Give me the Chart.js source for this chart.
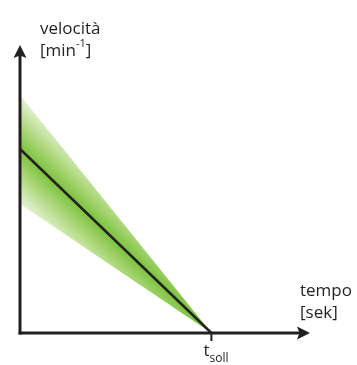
<!DOCTYPE html>
<html>
<head>
<meta charset="utf-8">
<script src="https://cdn.jsdelivr.net/npm/chart.js@4.4.1/dist/chart.umd.min.js"></script>
<style>
    html, body { margin: 0; padding: 0; background: #fff; overflow: hidden; }
    #wrap { position: relative; width: 357px; height: 365px; }
</style>
</head>
<body>
<div id="wrap"><canvas id="speedChart"></canvas></div>
<script>
// time points: start and target time t_soll (axis runs 0..100)
const timePoints = [0, 66];
// speed at those times (axis runs 0..100)
const speedNominal = [63.9, 0];
const speedUpper = [82.6, 0];
const speedLower = [44.8, 0];

const axisColor = '#231f20';
const labelFont = '"Open Sans", "DejaVu Sans", sans-serif';

function toPoints(values) {
    return timePoints.map((t, i) => ({ x: t, y: values[i] }));
}

// green band fading away from the nominal line on both sides
function bandGradient(context) {
    const chart = context.chart;
    const { ctx, chartArea, scales } = chart;
    if (!chartArea) return 'rgba(141, 198, 63, 0.5)';

    const x0 = scales.x.getPixelForValue(timePoints[0]);
    const y0 = scales.y.getPixelForValue(speedNominal[0]);
    const x1 = scales.x.getPixelForValue(timePoints[1]);
    const y1 = scales.y.getPixelForValue(speedNominal[1]);
    const len = Math.hypot(x1 - x0, y1 - y0);
    const nx = -(y1 - y0) / len;
    const ny = (x1 - x0) / len;

    const yu = scales.y.getPixelForValue(speedUpper[0]);
    const half = Math.abs((yu - y0) * ny);

    const g = ctx.createLinearGradient(x0 - nx * half, y0 - ny * half, x0 + nx * half, y0 + ny * half);
    g.addColorStop(0, '#e4f2d5');
    g.addColorStop(0.28, '#acd779');
    g.addColorStop(0.5, '#7cc23f');
    g.addColorStop(0.72, '#acd779');
    g.addColorStop(1, '#e4f2d5');
    return g;
}

function drawText(ctx, parts, x) {
    // parts: [text, size, baseline]
    parts.forEach(([text, size, baseline]) => {
        ctx.font = size + 'px ' + labelFont;
        ctx.fillText(text, x, baseline);
        x += ctx.measureText(text).width;
    });
}

const axesPlugin = {
    id: 'arrowAxes',
    afterDatasetsDraw(chart) {
        const { ctx, chartArea, scales } = chart;
        const left = chartArea.left;
        const bottom = chartArea.bottom;
        const top = chartArea.top;
        const right = chartArea.right;

        ctx.save();
        ctx.strokeStyle = axisColor;
        ctx.fillStyle = axisColor;
        ctx.lineWidth = 3;
        ctx.lineCap = 'butt';

        // y axis
        ctx.beginPath();
        ctx.moveTo(left, bottom + 1.5);
        ctx.lineTo(left, top + 8);
        ctx.stroke();
        // x axis
        ctx.beginPath();
        ctx.moveTo(left - 1.5, bottom);
        ctx.lineTo(right - 8, bottom);
        ctx.stroke();

        // arrow heads
        ctx.beginPath();
        ctx.moveTo(left, top);
        ctx.lineTo(left - 6.5, top + 13);
        ctx.lineTo(left, top + 10.5);
        ctx.lineTo(left + 6.5, top + 13);
        ctx.closePath();
        ctx.fill();

        ctx.beginPath();
        ctx.moveTo(right, bottom);
        ctx.lineTo(right - 13, bottom - 6.5);
        ctx.lineTo(right - 10.5, bottom);
        ctx.lineTo(right - 13, bottom + 6.5);
        ctx.closePath();
        ctx.fill();

        // tick at t_soll
        const xs = scales.x.getPixelForValue(timePoints[1]);
        ctx.lineWidth = 2;
        ctx.beginPath();
        ctx.moveTo(xs, bottom);
        ctx.lineTo(xs, bottom + 8);
        ctx.stroke();

        // labels
        ctx.textBaseline = 'alphabetic';
        ctx.textAlign = 'left';
        drawText(ctx, [['velocità', 17, 34]], left + 20);
        drawText(ctx, [['[min', 17, 56], ['-1', 11, 47], [']', 17, 56]], left + 20);
        drawText(ctx, [['tempo', 17, bottom - 37]], right - 10);
        drawText(ctx, [['[sek]', 17, bottom - 15]], right - 10);
        drawText(ctx, [['t', 17, bottom + 23], ['soll', 12, bottom + 29]], xs - 8);

        ctx.restore();
    }
};

new Chart(document.getElementById('speedChart'), {
    type: 'line',
    data: {
        datasets: [
            {
                label: 'nominal',
                data: toPoints(speedNominal),
                borderColor: axisColor,
                borderWidth: 2.5,
                pointRadius: 0,
                fill: false
            },
            {
                label: 'upper',
                data: toPoints(speedUpper),
                borderWidth: 0,
                borderColor: 'rgba(0,0,0,0)',
                pointRadius: 0,
                backgroundColor: bandGradient,
                fill: '+1'
            },
            {
                label: 'lower',
                data: toPoints(speedLower),
                borderWidth: 0,
                borderColor: 'rgba(0,0,0,0)',
                pointRadius: 0,
                fill: false
            }
        ]
    },
    options: {
        responsive: true,
        maintainAspectRatio: false,
        animation: false,
        layout: {
            padding: { left: 20, right: 47, top: 45, bottom: 32 }
        },
        plugins: {
            legend: { display: false },
            tooltip: { enabled: false }
        },
        scales: {
            x: { type: 'linear', min: 0, max: 100, display: false },
            y: { type: 'linear', min: 0, max: 100, display: false }
        }
    },
    plugins: [axesPlugin]
});
</script>
</body>
</html>
